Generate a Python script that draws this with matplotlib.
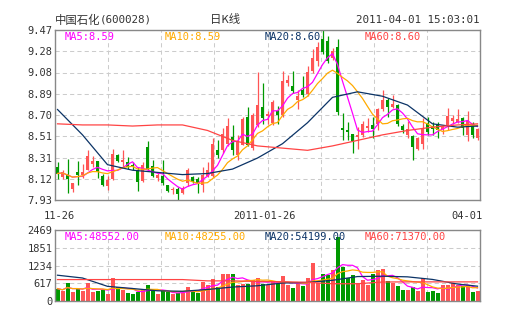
import numpy as np
import pandas as pd
import matplotlib
matplotlib.use('Agg')
import matplotlib.pyplot as plt

# 中国石化 (600028) daily K line, 2010-11-26 .. 2011-04-01 (85 sessions)
opens = [8.23, 8.14, 8.17, 8.03, 8.18, 8.16, 8.20, 8.26, 8.28, 8.15,
         8.06, 8.12, 8.34, 8.27, 8.27, 8.25, 8.19, 8.10, 8.41, 8.24,
         8.13, 8.15, 8.07, 8.02, 8.03, 7.99, 8.08, 8.14, 8.12, 8.07,
         8.15, 8.15, 8.38, 8.38, 8.44, 8.50, 8.34, 8.43, 8.68, 8.40,
         8.61, 8.77, 8.69, 8.63, 8.74, 8.70, 8.99, 8.96, 8.84, 8.93,
         8.89, 9.10, 9.19, 9.39, 9.37, 9.22, 9.32, 8.58, 8.56, 8.53,
         8.50, 8.52, 8.58, 8.61, 8.62, 8.75, 8.84, 8.77, 8.79, 8.60,
         8.52, 8.51, 8.39, 8.44, 8.63, 8.60, 8.61, 8.57, 8.60, 8.65,
         8.64, 8.67, 8.52, 8.60, 8.49]
highs = [8.27, 8.20, 8.30, 8.08, 8.28, 8.26, 8.38, 8.33, 8.28, 8.17,
         8.15, 8.39, 8.35, 8.38, 8.32, 8.27, 8.23, 8.27, 8.46, 8.29,
         8.18, 8.29, 8.07, 8.05, 8.05, 8.06, 8.22, 8.15, 8.14, 8.23,
         8.27, 8.49, 8.47, 8.58, 8.67, 8.61, 8.52, 8.68, 8.77, 8.72,
         9.09, 8.99, 8.74, 8.84, 8.78, 9.10, 9.06, 9.10, 8.93, 9.05,
         9.14, 9.30, 9.36, 9.47, 9.42, 9.31, 9.39, 8.72, 8.64, 8.53,
         8.59, 8.65, 8.67, 8.68, 8.76, 8.93, 8.85, 8.88, 8.80, 8.62,
         8.65, 8.52, 8.50, 8.67, 8.68, 8.64, 8.64, 8.61, 8.76, 8.70,
         8.75, 8.68, 8.74, 8.64, 8.58]
lows = [8.12, 8.12, 7.99, 8.00, 8.07, 8.13, 8.20, 8.23, 8.13, 8.06,
        8.02, 8.11, 8.27, 8.23, 8.21, 8.20, 8.01, 8.09, 8.20, 8.14,
        8.10, 8.07, 8.00, 7.98, 7.93, 7.98, 8.06, 8.08, 7.99, 8.00,
        8.14, 8.14, 8.31, 8.36, 8.42, 8.34, 8.29, 8.43, 8.42, 8.38,
        8.59, 8.62, 8.62, 8.61, 8.62, 8.68, 8.96, 8.90, 8.75, 8.86,
        8.87, 9.08, 9.14, 9.25, 9.17, 9.20, 8.70, 8.47, 8.47, 8.36,
        8.39, 8.50, 8.55, 8.49, 8.56, 8.74, 8.68, 8.76, 8.60, 8.54,
        8.49, 8.29, 8.38, 8.39, 8.52, 8.52, 8.49, 8.53, 8.56, 8.62,
        8.63, 8.52, 8.46, 8.49, 8.47]
closes = [8.17, 8.18, 8.12, 8.08, 8.16, 8.18, 8.33, 8.28, 8.18, 8.07,
          8.11, 8.35, 8.28, 8.29, 8.23, 8.23, 8.09, 8.25, 8.21, 8.15,
          8.16, 8.08, 8.01, 8.03, 7.98, 8.04, 8.20, 8.09, 8.08, 8.16,
          8.20, 8.44, 8.34, 8.53, 8.60, 8.38, 8.46, 8.66, 8.43, 8.70,
          8.79, 8.67, 8.71, 8.82, 8.70, 9.01, 9.02, 8.92, 8.87, 8.88,
          9.09, 9.22, 9.32, 9.27, 9.19, 9.28, 8.73, 8.56, 8.55, 8.46,
          8.52, 8.62, 8.60, 8.57, 8.75, 8.84, 8.77, 8.80, 8.62, 8.56,
          8.57, 8.41, 8.49, 8.58, 8.55, 8.57, 8.56, 8.60, 8.69, 8.67,
          8.66, 8.58, 8.65, 8.52, 8.57]
volumes = [431, 350, 629, 315, 431, 350, 629, 315, 338, 396,
           233, 792, 489, 373, 280, 233, 315, 431, 548, 350,
           233, 350, 315, 233, 280, 280, 489, 396, 280, 664,
           548, 781, 489, 955, 955, 955, 548, 606, 606, 722,
           815, 583, 548, 687, 583, 862, 548, 466, 606, 513,
           815, 1328, 629, 932, 897, 1072, 2240, 1188, 815, 897,
           629, 722, 548, 932, 1072, 1130, 699, 629, 513, 373,
           373, 489, 350, 815, 315, 350, 280, 548, 548, 629,
           548, 513, 548, 315, 350]

ma_idx = [0, 5, 10, 15, 20, 25, 30, 35, 40, 45, 50, 55, 60, 65, 70, 75, 80, 84]
ma20_price = [8.75, 8.52, 8.25, 8.20, 8.18, 8.16, 8.17, 8.21, 8.31, 8.44,
              8.63, 8.86, 8.91, 8.87, 8.79, 8.62, 8.59, 8.60]
ma60_price = [8.62, 8.61, 8.61, 8.60, 8.61, 8.61, 8.56, 8.47, 8.42, 8.40,
              8.38, 8.42, 8.47, 8.52, 8.56, 8.59, 8.61, 8.62]
ma20_vol = [897, 800, 510, 435, 355, 338, 400, 485, 530, 625,
            645, 720, 850, 862, 840, 750, 590, 515]
ma60_vol = [745, 745, 745, 745, 745, 745, 700, 700, 680, 670,
            650, 600, 600, 660, 665, 665, 665, 665]

price_ticks = ['7.93', '8.12', '8.31', '8.51', '8.70', '8.89', '9.08', '9.28', '9.47']
vol_ticks = ['0', '617', '1234', '1851', '2469']
dates = ['11-26', '2011-01-26', '04-01']
price_ma_text = ['MA5:8.59', 'MA10:8.59', 'MA20:8.60', 'MA60:8.60']
vol_ma_text = ['MA5:48552.00', 'MA10:48255.00', 'MA20:54199.00', 'MA60:71370.00']

RED = '#ff5555'
GREEN = '#009900'
MA_COLORS = ['#ff00ff', '#ffaa00', '#0b3366', '#ff4444']
MONO = 'DejaVu Sans Mono'

df = pd.DataFrame({'open': opens, 'high': highs, 'low': lows, 'close': closes, 'vol': volumes})
x = np.arange(len(df))
up = df['close'] >= df['open']
colors = np.where(up, RED, GREEN)

W, H = 505, 330
fig = plt.figure(figsize=(W / 100, H / 100), dpi=100)
fig.patch.set_facecolor('white')


def box(l, t, r, b):
    return [l / W, 1 - b / H, (r - l) / W, (b - t) / H]


ax1 = fig.add_axes(box(55, 30, 480, 200))
ax2 = fig.add_axes(box(55, 230, 480, 301))

for ax in (ax1, ax2):
    ax.set_xlim(-0.5, len(df) - 0.5)
    ax.set_xticks(np.linspace(-0.5, len(df) - 0.5, 9)[1:-1])
    ax.grid(True, color='#cccccc', linestyle=(0, (4, 3)), linewidth=0.75)
    ax.set_axisbelow(True)
    ax.tick_params(length=0, labelbottom=False, pad=2, labelsize=7.5, labelcolor='#333333')
    for s in ax.spines.values():
        s.set_color('#888888')
        s.set_linewidth(1.0)
    for lab in ax.get_yticklabels():
        lab.set_family(MONO)

# price panel
lo, hi = float(price_ticks[0]), float(price_ticks[-1])
ax1.set_ylim(lo, hi)
ax1.set_yticks(np.linspace(lo, hi, len(price_ticks)))
ax1.set_yticklabels(price_ticks, family=MONO)

ax1.vlines(x, df['low'], df['high'], colors=colors, linewidth=0.9, zorder=2)
body_lo = np.minimum(df['open'], df['close'])
body_h = np.maximum(np.abs(df['close'] - df['open']), 0.006)
ax1.bar(x, body_h, bottom=body_lo, width=0.72, color=colors, linewidth=0, zorder=3)

ma5 = df['close'].rolling(5, min_periods=1).mean()
ma10 = df['close'].rolling(10, min_periods=1).mean()
ax1.plot(x, ma5, color=MA_COLORS[0], linewidth=0.9, zorder=4)
ax1.plot(x, ma10, color=MA_COLORS[1], linewidth=0.9, zorder=4)
ax1.plot(ma_idx, ma20_price, color=MA_COLORS[2], linewidth=0.9, zorder=4)
ax1.plot(ma_idx, ma60_price, color=MA_COLORS[3], linewidth=0.9, zorder=4)

# volume panel
vtop = float(vol_ticks[-1])
ax2.set_ylim(0, vtop)
ax2.set_yticks(np.linspace(0, vtop, len(vol_ticks)))
ax2.set_yticklabels(vol_ticks, family=MONO)
ax2.bar(x, df['vol'], width=0.8, color=colors, linewidth=0, zorder=2)
vma5 = df['vol'].rolling(5, min_periods=1).mean()
vma10 = df['vol'].rolling(10, min_periods=1).mean()
ax2.plot(x, vma5, color=MA_COLORS[0], linewidth=0.9, zorder=4)
ax2.plot(x, vma10, color=MA_COLORS[1], linewidth=0.9, zorder=4)
ax2.plot(ma_idx, ma20_vol, color=MA_COLORS[2], linewidth=0.9, zorder=4)
ax2.plot(ma_idx, ma60_vol, color=MA_COLORS[3], linewidth=0.9, zorder=4)


def ftext(px, py, s, **kw):
    kw.setdefault('va', 'center')
    kw.setdefault('fontsize', 7.5)
    kw.setdefault('family', MONO)
    kw.setdefault('color', '#333333')
    fig.text(px / W, 1 - py / H, s, **kw)


# MA legends
for k, (t1, t2) in enumerate(zip(price_ma_text, vol_ma_text)):
    ftext(65 + 100 * k, 37, t1, color=MA_COLORS[k])
    ftext(65 + 100 * k, 237, t2, color=MA_COLORS[k])

# header
ftext(55, 20, '中国石化', family=['Noto Sans CJK SC', 'DejaVu Sans'], fontsize=8.2)
ftext(100, 20, '(600028)', fontsize=7.8)
ftext(225, 20, '日K线', family=['Noto Sans CJK SC', 'DejaVu Sans'], fontsize=8.2, ha='center')
ftext(479, 20, '2011-04-01 15:03:01', fontsize=7.8, ha='right')

# dates
ftext(59, 216, dates[0], ha='center')
ftext(264, 216, dates[1], ha='center')
ftext(483, 216, dates[2], ha='right')

fig.savefig('out.png', dpi=100, facecolor='white')
